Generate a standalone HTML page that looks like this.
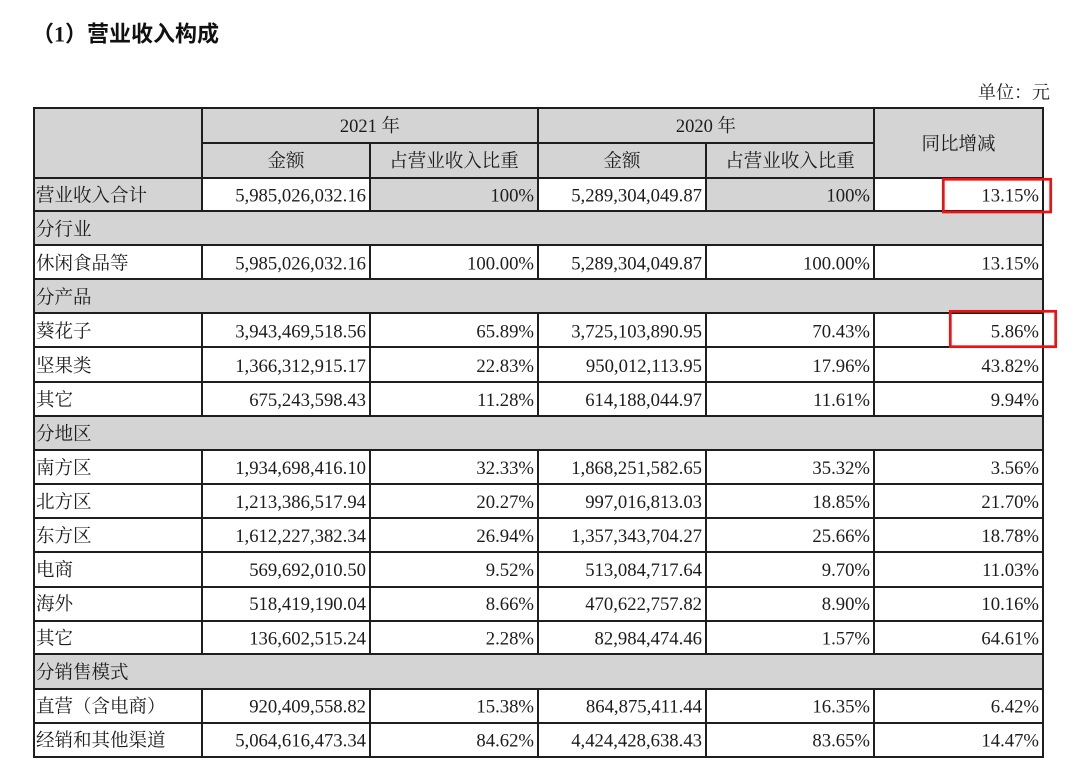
<!DOCTYPE html>
<html>
<head>
<meta charset="utf-8">
<style>
  html,body{margin:0;padding:0;background:#fff;}
  body{width:1080px;height:780px;overflow:hidden;}
  svg{display:block;}
  .t{font-family:"Liberation Serif","Noto Serif CJK SC",serif;font-size:18.5px;fill:#1c1c1c;}
  .n{font-family:"Liberation Serif",serif;font-size:18.7px;fill:#1c1c1c;text-anchor:end;}
  .c{text-anchor:middle;}
</style>
</head>
<body>
<svg width="1080" height="780" viewBox="0 0 1080 780" xmlns="http://www.w3.org/2000/svg">
  <!-- title -->
  <text x="32" y="41.5" style="font-family:'Liberation Serif','Noto Sans CJK SC',sans-serif;font-size:22px;font-weight:bold;fill:#111;">（1）营业收入构成</text>
  <text x="1050" y="98.5" style="font-family:'Liberation Serif','Noto Serif CJK SC',serif;font-size:18px;fill:#222;text-anchor:end;">单位：元</text>

  <!-- gray fills -->
  <g fill="#d4d4d4">
    <rect x="34" y="108" width="1009" height="70"/>
    <rect x="34" y="178" width="168" height="33"/>
    <rect x="370" y="178" width="168" height="33"/>
    <rect x="706" y="178" width="168" height="33"/>
    <rect x="34" y="211" width="1009" height="34"/>
    <rect x="34" y="279" width="1009" height="34"/>
    <rect x="34" y="416" width="1009" height="34"/>
    <rect x="34" y="654" width="1009" height="35"/>
  </g>

  <!-- grid lines -->
  <g stroke="#1e1e1e" stroke-width="2" fill="none">
    <!-- outer -->
    <line x1="33" y1="108" x2="1044" y2="108"/>
    <line x1="34" y1="107" x2="34" y2="758"/>
    <line x1="1043" y1="107" x2="1043" y2="758"/>
    <line x1="33" y1="757" x2="1044" y2="757"/>
    <!-- header -->
    <line x1="202" y1="143" x2="874" y2="143"/>
    <line x1="202" y1="108" x2="202" y2="178"/>
    <line x1="370" y1="143" x2="370" y2="178"/>
    <line x1="538" y1="108" x2="538" y2="178"/>
    <line x1="706" y1="143" x2="706" y2="178"/>
    <line x1="874" y1="108" x2="874" y2="178"/>
    <!-- horizontals -->
    <line x1="33" y1="178" x2="1044" y2="178"/>
    <line x1="33" y1="211" x2="1044" y2="211"/>
    <line x1="33" y1="245" x2="1044" y2="245"/>
    <line x1="33" y1="279" x2="1044" y2="279"/>
    <line x1="33" y1="313" x2="1044" y2="313"/>
    <line x1="33" y1="347" x2="1044" y2="347"/>
    <line x1="33" y1="382" x2="1044" y2="382"/>
    <line x1="33" y1="416" x2="1044" y2="416"/>
    <line x1="33" y1="450" x2="1044" y2="450"/>
    <line x1="33" y1="484" x2="1044" y2="484"/>
    <line x1="33" y1="518" x2="1044" y2="518"/>
    <line x1="33" y1="552" x2="1044" y2="552"/>
    <line x1="33" y1="587" x2="1044" y2="587"/>
    <line x1="33" y1="621" x2="1044" y2="621"/>
    <line x1="33" y1="654" x2="1044" y2="654"/>
    <line x1="33" y1="689" x2="1044" y2="689"/>
    <line x1="33" y1="723" x2="1044" y2="723"/>
    <!-- body verticals: row1 -->
    <g>
      <line x1="202" y1="178" x2="202" y2="211"/><line x1="370" y1="178" x2="370" y2="211"/><line x1="538" y1="178" x2="538" y2="211"/><line x1="706" y1="178" x2="706" y2="211"/><line x1="874" y1="178" x2="874" y2="211"/>
    </g>
    <!-- row3 -->
    <g>
      <line x1="202" y1="245" x2="202" y2="279"/><line x1="370" y1="245" x2="370" y2="279"/><line x1="538" y1="245" x2="538" y2="279"/><line x1="706" y1="245" x2="706" y2="279"/><line x1="874" y1="245" x2="874" y2="279"/>
    </g>
    <!-- rows 5-7 -->
    <g>
      <line x1="202" y1="313" x2="202" y2="416"/><line x1="370" y1="313" x2="370" y2="416"/><line x1="538" y1="313" x2="538" y2="416"/><line x1="706" y1="313" x2="706" y2="416"/><line x1="874" y1="313" x2="874" y2="416"/>
    </g>
    <!-- rows 9-14 -->
    <g>
      <line x1="202" y1="450" x2="202" y2="654"/><line x1="370" y1="450" x2="370" y2="654"/><line x1="538" y1="450" x2="538" y2="654"/><line x1="706" y1="450" x2="706" y2="654"/><line x1="874" y1="450" x2="874" y2="654"/>
    </g>
    <!-- rows 16-17 -->
    <g>
      <line x1="202" y1="689" x2="202" y2="757"/><line x1="370" y1="689" x2="370" y2="757"/><line x1="538" y1="689" x2="538" y2="757"/><line x1="706" y1="689" x2="706" y2="757"/><line x1="874" y1="689" x2="874" y2="757"/>
    </g>
  </g>

  <!-- header text -->
  <text class="t c" x="370" y="132">2021 年</text>
  <text class="t c" x="706" y="132">2020 年</text>
  <text class="t c" x="286" y="167">金额</text>
  <text class="t c" x="454" y="167">占营业收入比重</text>
  <text class="t c" x="622" y="167">金额</text>
  <text class="t c" x="790" y="167">占营业收入比重</text>
  <text class="t c" x="958.5" y="150">同比增减</text>

  <!-- row 1 -->
  <text class="t" x="36" y="201.5">营业收入合计</text>
  <text class="n" x="366" y="201.5">5,985,026,032.16</text>
  <text class="n" x="534" y="201.5">100%</text>
  <text class="n" x="702" y="201.5">5,289,304,049.87</text>
  <text class="n" x="870" y="201.5">100%</text>
  <text class="n" x="1039" y="201.5">13.15%</text>

  <!-- row 2 -->
  <text class="t" x="36" y="235.5">分行业</text>

  <!-- row 3 -->
  <text class="t" x="36" y="269.6">休闲食品等</text>
  <text class="n" x="366" y="269.6">5,985,026,032.16</text>
  <text class="n" x="534" y="269.6">100.00%</text>
  <text class="n" x="702" y="269.6">5,289,304,049.87</text>
  <text class="n" x="870" y="269.6">100.00%</text>
  <text class="n" x="1039" y="269.6">13.15%</text>

  <!-- row 4 -->
  <text class="t" x="36" y="303.7">分产品</text>

  <!-- row 5 -->
  <text class="t" x="36" y="337.7">葵花子</text>
  <text class="n" x="366" y="337.7">3,943,469,518.56</text>
  <text class="n" x="534" y="337.7">65.89%</text>
  <text class="n" x="702" y="337.7">3,725,103,890.95</text>
  <text class="n" x="870" y="337.7">70.43%</text>
  <text class="n" x="1039" y="337.7">5.86%</text>

  <!-- row 6 -->
  <text class="t" x="36" y="371.8">坚果类</text>
  <text class="n" x="366" y="371.8">1,366,312,915.17</text>
  <text class="n" x="534" y="371.8">22.83%</text>
  <text class="n" x="702" y="371.8">950,012,113.95</text>
  <text class="n" x="870" y="371.8">17.96%</text>
  <text class="n" x="1039" y="371.8">43.82%</text>

  <!-- row 7 -->
  <text class="t" x="36" y="405.9">其它</text>
  <text class="n" x="366" y="405.9">675,243,598.43</text>
  <text class="n" x="534" y="405.9">11.28%</text>
  <text class="n" x="702" y="405.9">614,188,044.97</text>
  <text class="n" x="870" y="405.9">11.61%</text>
  <text class="n" x="1039" y="405.9">9.94%</text>

  <!-- row 8 -->
  <text class="t" x="36" y="439.9">分地区</text>

  <!-- row 9 -->
  <text class="t" x="36" y="474">南方区</text>
  <text class="n" x="366" y="474">1,934,698,416.10</text>
  <text class="n" x="534" y="474">32.33%</text>
  <text class="n" x="702" y="474">1,868,251,582.65</text>
  <text class="n" x="870" y="474">35.32%</text>
  <text class="n" x="1039" y="474">3.56%</text>

  <!-- row 10 -->
  <text class="t" x="36" y="508">北方区</text>
  <text class="n" x="366" y="508">1,213,386,517.94</text>
  <text class="n" x="534" y="508">20.27%</text>
  <text class="n" x="702" y="508">997,016,813.03</text>
  <text class="n" x="870" y="508">18.85%</text>
  <text class="n" x="1039" y="508">21.70%</text>

  <!-- row 11 -->
  <text class="t" x="36" y="542.1">东方区</text>
  <text class="n" x="366" y="542.1">1,612,227,382.34</text>
  <text class="n" x="534" y="542.1">26.94%</text>
  <text class="n" x="702" y="542.1">1,357,343,704.27</text>
  <text class="n" x="870" y="542.1">25.66%</text>
  <text class="n" x="1039" y="542.1">18.78%</text>

  <!-- row 12 -->
  <text class="t" x="36" y="576.2">电商</text>
  <text class="n" x="366" y="576.2">569,692,010.50</text>
  <text class="n" x="534" y="576.2">9.52%</text>
  <text class="n" x="702" y="576.2">513,084,717.64</text>
  <text class="n" x="870" y="576.2">9.70%</text>
  <text class="n" x="1039" y="576.2">11.03%</text>

  <!-- row 13 -->
  <text class="t" x="36" y="610.2">海外</text>
  <text class="n" x="366" y="610.2">518,419,190.04</text>
  <text class="n" x="534" y="610.2">8.66%</text>
  <text class="n" x="702" y="610.2">470,622,757.82</text>
  <text class="n" x="870" y="610.2">8.90%</text>
  <text class="n" x="1039" y="610.2">10.16%</text>

  <!-- row 14 -->
  <text class="t" x="36" y="644.3">其它</text>
  <text class="n" x="366" y="644.3">136,602,515.24</text>
  <text class="n" x="534" y="644.3">2.28%</text>
  <text class="n" x="702" y="644.3">82,984,474.46</text>
  <text class="n" x="870" y="644.3">1.57%</text>
  <text class="n" x="1039" y="644.3">64.61%</text>

  <!-- row 15 -->
  <text class="t" x="36" y="678.3">分销售模式</text>

  <!-- row 16 -->
  <text class="t" x="36" y="712.4">直营（含电商）</text>
  <text class="n" x="366" y="712.4">920,409,558.82</text>
  <text class="n" x="534" y="712.4">15.38%</text>
  <text class="n" x="702" y="712.4">864,875,411.44</text>
  <text class="n" x="870" y="712.4">16.35%</text>
  <text class="n" x="1039" y="712.4">6.42%</text>

  <!-- row 17 -->
  <text class="t" x="36" y="746.5">经销和其他渠道</text>
  <text class="n" x="366" y="746.5">5,064,616,473.34</text>
  <text class="n" x="534" y="746.5">84.62%</text>
  <text class="n" x="702" y="746.5">4,424,428,638.43</text>
  <text class="n" x="870" y="746.5">83.65%</text>
  <text class="n" x="1039" y="746.5">14.47%</text>

  <!-- red highlight boxes -->
  <rect x="943.3" y="179.3" width="107.4" height="32.7" fill="none" stroke="#ee1111" stroke-width="2.7"/>
  <rect x="950.3" y="311.3" width="105.4" height="35.4" fill="none" stroke="#ee1111" stroke-width="2.7"/>
</svg>
</body>
</html>
